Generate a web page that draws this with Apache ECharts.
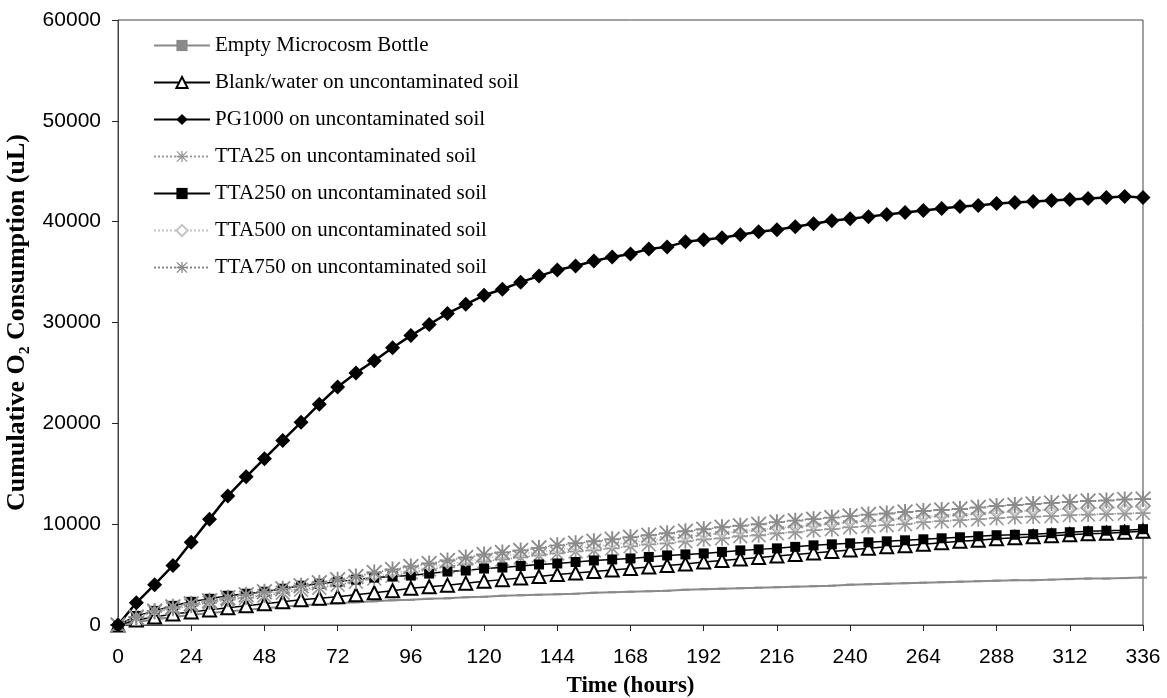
<!DOCTYPE html>
<html>
<head>
<meta charset="utf-8">
<script src="https://cdn.jsdelivr.net/npm/echarts@6/dist/echarts.min.js"></script>
<style>
html,body{margin:0;padding:0;background:#fff;}
#chart{width:1167px;height:698px;}
</style>
</head>
<body>
<div id="chart"></div>
<script>
// Time points (hours)
var hours = [0,6,12,18,24,30,36,42,48,54,60,66,72,78,84,90,96,102,108,114,120,126,132,138,144,150,156,162,168,174,180,186,192,198,204,210,216,222,228,234,240,246,252,258,264,270,276,282,288,294,300,306,312,318,324,330,336];
var xTicks = [0,24,48,72,96,120,144,168,192,216,240,264,288,312,336];
var yTicks = [0,10000,20000,30000,40000,50000,60000];

var seriesNames = [
  "Empty Microcosm Bottle",
  "Blank/water on uncontaminated soil",
  "PG1000 on uncontaminated soil",
  "TTA25 on uncontaminated soil",
  "TTA250 on uncontaminated soil",
  "TTA500 on uncontaminated soil",
  "TTA750 on uncontaminated soil"
];

var emptyBottle = [0,300,550,800,1000,1200,1350,1500,1650,1800,1950,2050,2150,2250,2350,2450,2500,2600,2650,2750,2800,2900,2950,3000,3050,3100,3200,3250,3300,3350,3400,3500,3550,3600,3650,3700,3750,3800,3850,3900,4000,4050,4100,4150,4200,4250,4300,4350,4400,4450,4450,4500,4550,4600,4600,4650,4700];
var blankWater = [0,500,800,1100,1300,1500,1700,1900,2100,2300,2500,2650,2800,3000,3200,3400,3650,3800,3950,4150,4350,4500,4650,4800,5000,5150,5300,5450,5600,5750,5900,6050,6250,6400,6550,6700,6850,7000,7150,7300,7450,7600,7750,7850,8000,8150,8300,8400,8550,8650,8750,8850,8950,9050,9100,9200,9300];
var pg1000 = [0,2200,4000,5900,8200,10500,12800,14700,16500,18300,20100,21900,23600,25000,26200,27500,28700,29800,30900,31800,32700,33300,34000,34600,35200,35600,36100,36500,36800,37300,37500,38000,38200,38400,38700,39000,39200,39500,39800,40100,40300,40500,40700,40900,41100,41300,41500,41600,41800,41900,42000,42100,42200,42300,42400,42500,42400];
var tta25 = [0,700,1300,1600,1900,2200,2500,2700,2900,3200,3500,3700,4000,4300,4600,4900,5200,5500,5800,6000,6300,6500,6700,6900,7100,7300,7400,7600,7800,8000,8100,8300,8500,8600,8800,8900,9100,9200,9400,9500,9700,9800,9900,10000,10200,10300,10400,10500,10600,10700,10750,10800,10900,10950,11000,11050,11100];
var tta250 = [0,900,1400,1900,2300,2600,2900,3100,3300,3600,3900,4100,4300,4500,4700,4800,4900,5100,5300,5400,5600,5700,5850,6000,6100,6250,6400,6500,6600,6750,6900,7000,7100,7250,7400,7500,7600,7750,7900,8000,8100,8200,8300,8400,8500,8600,8700,8800,8900,8950,9000,9100,9200,9300,9350,9400,9500];
var tta500 = [0,750,1350,1700,2000,2300,2600,2800,3100,3350,3650,3900,4200,4500,4800,5100,5450,5750,6050,6300,6600,6850,7050,7250,7450,7650,7800,8000,8200,8400,8550,8750,8950,9100,9300,9450,9600,9750,9900,10050,10200,10350,10450,10600,10700,10850,10950,11050,11150,11250,11350,11400,11500,11550,11600,11650,11700];
var tta750 = [0,800,1400,1800,2100,2400,2700,3000,3300,3600,3900,4200,4500,4800,5200,5500,5800,6100,6400,6700,7000,7200,7400,7650,7900,8100,8300,8500,8700,8900,9100,9300,9500,9700,9850,10000,10200,10350,10500,10650,10800,10950,11050,11200,11300,11400,11500,11650,11800,11900,12000,12100,12200,12300,12350,12450,12500];

function pairs(vals){ return hours.map(function(h,i){ return [h, vals[i]]; }); }

var asterisk = 'path://M4.4,0 L5.6,0 L5.6,4.4 L10,4.4 L10,5.6 L5.6,5.6 L5.6,10 L4.4,10 L4.4,5.6 L0,5.6 L0,4.4 L4.4,4.4 Z M0.8,0 L5,4.2 L9.2,0 L10,0.8 L5.8,5 L10,9.2 L9.2,10 L5,5.8 L0.8,10 L0,9.2 L4.2,5 L0,0.8 Z';

var chart = echarts.init(document.getElementById('chart'), null, {renderer:'canvas'});
var sansFont = '"Liberation Sans", Arial, sans-serif';
var serifFont = '"Liberation Serif", "Times New Roman", serif';

var option = {
  animation: false,
  backgroundColor: '#fff',
  grid: {left: 118, right: 24, top: 20, bottom: 73, containLabel: false, outerBoundsMode: 'none',
         show: true, borderColor: '#444', borderWidth: 1},
  legend: {
    orient: 'vertical', left: 148, top: 30,
    itemWidth: 56, itemHeight: 14, itemGap: 16,
    textStyle: {fontFamily: serifFont, fontSize: 21, color: '#000', lineHeight: 20},
    data: seriesNames
  },
  xAxis: {
    type: 'value', min: 0, max: 336, interval: 24,
    name: 'Time (hours)', nameLocation: 'middle', nameGap: 50,
    nameTextStyle: {fontFamily: serifFont, fontWeight: 'bold', fontSize: 23, color: '#000'},
    axisLine: {show: true, lineStyle: {color: '#444', width: 1}},
    axisTick: {show: true, inside: false, length: 6, lineStyle: {color: '#222'}},
    axisLabel: {fontFamily: sansFont, fontSize: 21, color: '#000', margin: 22},
    splitLine: {show: false}
  },
  yAxis: {
    type: 'value', min: 0, max: 60000, interval: 10000,
    name: 'Cumulative O\u2082 Consumption (uL)', nameLocation: 'middle', nameGap: 88,
    nameTextStyle: {fontFamily: serifFont, fontWeight: 'bold', fontSize: 26, color: '#000'},
    axisLine: {show: true, lineStyle: {color: '#444', width: 1}},
    axisTick: {show: true, inside: false, length: 6, lineStyle: {color: '#222'}},
    axisLabel: {fontFamily: sansFont, fontSize: 21, color: '#000', margin: 17,
      formatter: function(v){ return String(v); }},
    splitLine: {show: false}
  },
  series: [
    {
      name: seriesNames[0], type: 'line', data: pairs(emptyBottle),
      symbol: 'rect', symbolSize: [8, 2],
      lineStyle: {color: '#8a8a8a', width: 2},
      itemStyle: {color: '#8a8a8a'}
    },
    {
      name: seriesNames[1], type: 'line', data: pairs(blankWater),
      symbol: 'triangle', symbolSize: 13,
      lineStyle: {color: '#000', width: 1.5},
      itemStyle: {color: '#fff', borderColor: '#000', borderWidth: 2}
    },
    {
      name: seriesNames[3], type: 'line', data: pairs(tta25),
      symbol: asterisk, symbolSize: 15,
      lineStyle: {color: '#999', width: 1.5, type: 'dotted'},
      itemStyle: {color: '#9a9a9a'}
    },
    {
      name: seriesNames[4], type: 'line', data: pairs(tta250),
      symbol: 'rect', symbolSize: 10,
      lineStyle: {color: '#000', width: 1.5},
      itemStyle: {color: '#000'}
    },
    {
      name: seriesNames[5], type: 'line', data: pairs(tta500),
      symbol: 'emptyDiamond', symbolSize: 8,
      lineStyle: {color: '#c4c4c4', width: 1.5, type: 'dotted'},
      itemStyle: {color: '#c4c4c4', borderColor: '#bbb'}
    },
    {
      name: seriesNames[6], type: 'line', data: pairs(tta750),
      symbol: asterisk, symbolSize: 16,
      lineStyle: {color: '#888', width: 1.5, type: 'dotted'},
      itemStyle: {color: '#8c8c8c'}
    },
    {
      name: seriesNames[2], type: 'line', data: pairs(pg1000),
      symbol: 'diamond', symbolSize: 15,
      lineStyle: {color: '#000', width: 2.5},
      itemStyle: {color: '#000'}
    }
  ]
};
chart.setOption(option);
</script>
</body>
</html>
